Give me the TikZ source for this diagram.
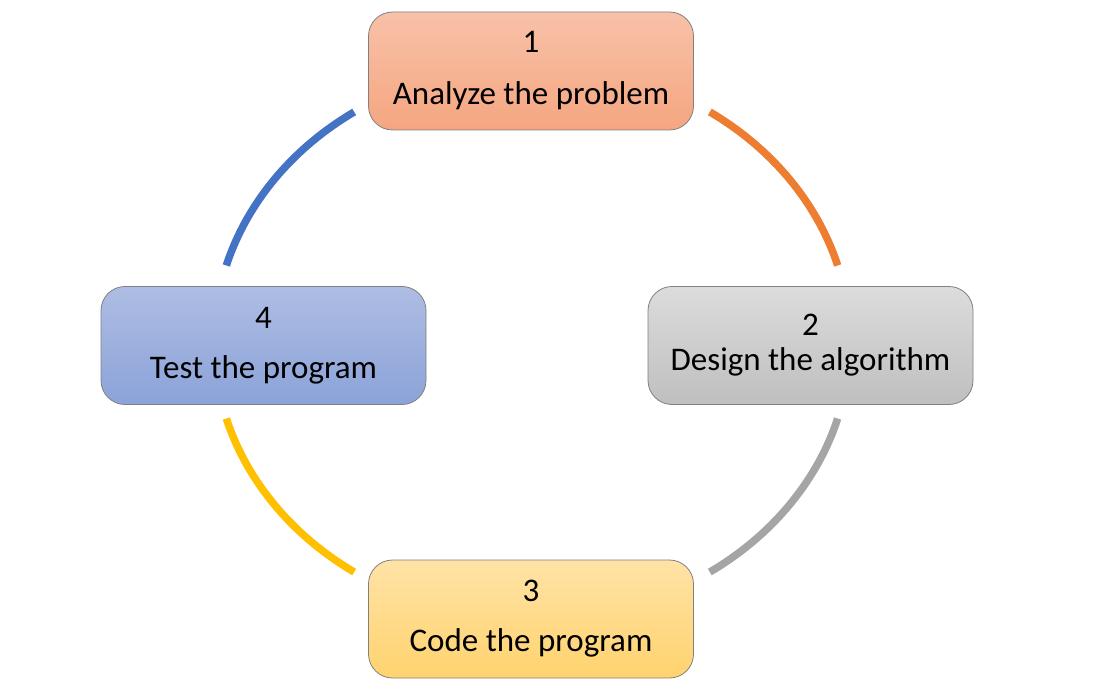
\documentclass[tikz,border=0pt]{standalone}
\usepackage{fontspec}
\setmainfont{Carlito}
\definecolor{orA}{HTML}{F8C1A9}
\definecolor{orB}{HTML}{F5A680}
\definecolor{grA}{HTML}{DCDCDC}
\definecolor{grB}{HTML}{BFBFBF}
\definecolor{ylA}{HTML}{FFE2A6}
\definecolor{ylB}{HTML}{FFD36E}
\definecolor{blA}{HTML}{AEBDE3}
\definecolor{blB}{HTML}{8BA3D9}
\definecolor{lnOr}{HTML}{ED7D31}
\definecolor{lnGr}{HTML}{A5A5A5}
\definecolor{lnYl}{HTML}{FFC000}
\definecolor{lnBl}{HTML}{4472C4}
\tikzset{
  stepbox/.style={draw=black!50, line width=0.8pt, rounded corners=24pt,
    minimum width=325pt, minimum height=118pt, align=center, inner sep=0pt},
  cyc/.style={line width=7.5pt, line cap=butt},
}
\begin{document}
\begin{tikzpicture}[x=1pt,y=1pt]
\useasboundingbox (0,0) rectangle (1107,697);
\fill[white] (0,0) rectangle (1107,697);
\coordinate (O) at (532,355);
\node[stepbox, top color=orA, bottom color=orB, font=\fontsize{33}{52}\selectfont]
  (a) at (531,626) {1\\Analyze the problem};
\node[stepbox, top color=grA, bottom color=grB, font=\fontsize{33}{35}\selectfont]
  (b) at (810.5,351.5) {2\\Design the algorithm};
\node[stepbox, top color=ylA, bottom color=ylB, font=\fontsize{33}{50}\selectfont]
  (c) at (531,78) {3\\Code the program};
\node[stepbox, top color=blA, bottom color=blB, font=\fontsize{33}{50}\selectfont]
  (d) at (263.5,351.5) {4\\Test the program};
\draw[cyc, lnOr] ([shift={(56:318pt and 277.5pt)}]O) arc[start angle=56, end angle=16, x radius=318pt, y radius=277.5pt];
\draw[cyc, lnGr] ([shift={(-16:318pt and 277.5pt)}]O) arc[start angle=-16, end angle=-56, x radius=318pt, y radius=277.5pt];
\draw[cyc, lnYl] ([shift={(236:318pt and 277.5pt)}]O) arc[start angle=236, end angle=196, x radius=318pt, y radius=277.5pt];
\draw[cyc, lnBl] ([shift={(164:318pt and 277.5pt)}]O) arc[start angle=164, end angle=124, x radius=318pt, y radius=277.5pt];
\end{tikzpicture}
\end{document}
